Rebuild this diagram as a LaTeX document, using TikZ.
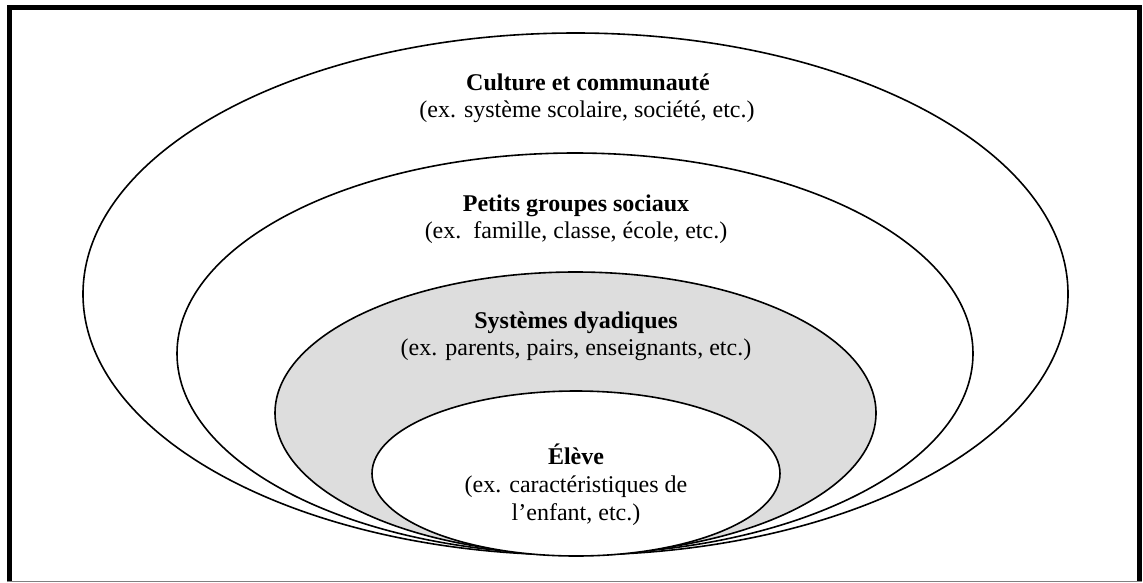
\documentclass[tikz,border=0pt]{standalone}
\usepackage{fontspec}
\setmainfont{Liberation Serif}
\usetikzlibrary{shapes.geometric}
\definecolor{dyadfill}{RGB}{221,221,221}
\begin{document}
\begin{tikzpicture}[x=1pt,y=-1pt,
  ring/.style={ellipse, draw=black, line width=1.6pt, inner sep=0pt, outer sep=0pt},
  ringtitle/.style={anchor=base, inner sep=0pt, font=\fontsize{24}{27.6}\selectfont\bfseries},
  ringnote/.style={anchor=base, inner sep=0pt, font=\fontsize{24}{27.6}\selectfont}]
\useasboundingbox (0,0) rectangle (1143,582);
% outer frame
\draw[line width=4.4pt] (9.5,582) -- (9.5,7.3) -- (1139.5,7.3) -- (1139.5,582);
\draw[gray, line width=1pt] (7.3,581.4) -- (1141.7,581.4);
% nested levels
\node[ring, fill=white, minimum width=985pt, minimum height=522pt] (culture) at (575.5,294) {};
\node[ring, fill=white, minimum width=796pt, minimum height=401pt] (groupes) at (575,353.5) {};
\node[ring, fill=dyadfill, minimum width=601pt, minimum height=282pt] (dyad) at (575.5,413) {};
\node[ring, fill=white, minimum width=408pt, minimum height=165pt] (eleve) at (576,473.5) {};
% labels
\node[ringtitle] (cultureT) at (588,90.9) {Culture et communauté};
\node[ringnote] (cultureN) at (587,117.9) {(ex. système scolaire, société, etc.)};
\node[ringtitle] (groupesT) at (576,211) {Petits groupes sociaux};
\node[ringnote] (groupesN) at (576,238) {(ex.\ \ famille, classe, école, etc.)};
\node[ringtitle] (dyadT) at (576,328) {Systèmes dyadiques};
\node[ringnote] (dyadN) at (576,355) {(ex. parents, pairs, enseignants, etc.)};
\node[ringtitle] (eleveT) at (576,464.3) {Élève};
\node[ringnote] (eleveN1) at (576,492.3) {(ex. caractéristiques de};
\node[ringnote] (eleveN2) at (576,520) {l’enfant, etc.)};
\end{tikzpicture}
\end{document}
